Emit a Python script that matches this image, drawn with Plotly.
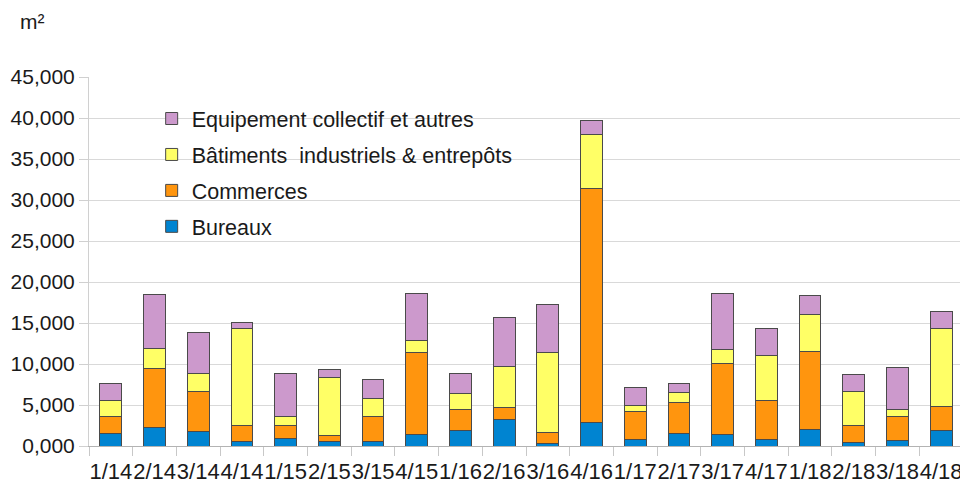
import plotly.graph_objects as go

categories = ["1/14", "2/14", "3/14", "4/14", "1/15", "2/15", "3/15", "4/15",
              "1/16", "2/16", "3/16", "4/16", "1/17", "2/17", "3/17", "4/17",
              "1/18", "2/18", "3/18", "4/18"]

bureaux = [1550, 2250, 1800, 500, 900, 600, 500, 1450, 1900, 3250,
           350, 2900, 850, 1550, 1350, 800, 2050, 450, 700, 1900]
commerces = [2000, 7200, 4900, 2000, 1550, 650, 3100, 9900, 2600, 1450,
             1250, 28500, 3400, 3750, 8700, 4700, 9500, 2100, 2900, 2950]
batiments = [2050, 2400, 2100, 11800, 1100, 7100, 2200, 1550, 1850, 5050,
             9800, 6600, 750, 1200, 1750, 5500, 4500, 4150, 900, 9450]
equipement = [2050, 6600, 5100, 800, 5250, 1000, 2300, 5650, 2550, 5900,
              5800, 1750, 2100, 1150, 6800, 3300, 2350, 2050, 5100, 2050]

series_names = ["Bureaux", "Commerces", "Bâtiments  industriels & entrepôts",
                "Equipement collectif et autres"]
series_colors = ["#0084d1", "#ff950e", "#ffff66", "#cc99cc"]
legend_ranks = [4, 3, 2, 1]

tick_values = [0, 5000, 10000, 15000, 20000, 25000, 30000, 35000, 40000, 45000]
tick_labels = ["0,000", "5,000", "10,000", "15,000", "20,000", "25,000",
               "30,000", "35,000", "40,000", "45,000"]

unit_label = "m²"

fig = go.Figure()
for name, vals, col, rk in zip(series_names, [bureaux, commerces, batiments, equipement],
                               series_colors, legend_ranks):
    fig.add_trace(go.Bar(
        x=categories, y=vals, name=name, legendgroup=name, legendrank=rk,
        marker=dict(color=col, line=dict(color="#4a4a4a", width=1)),
        width=0.5,
    ))

FONT = "Liberation Sans, Arial, sans-serif"
L, R, T, B = 81, 13, 69, 47
PW, PH = 968 - L - R, 485 - T - B

fig.update_layout(
    barmode="stack",
    width=968, height=485,
    margin=dict(l=L, r=R, t=T, b=B, autoexpand=False),
    paper_bgcolor="white", plot_bgcolor="white",
    font=dict(family=FONT, size=21, color="#1a1a1a"),
    showlegend=True,
    legend=dict(
        x=0.0717, y=0.943, xanchor="left", yanchor="top",
        traceorder="grouped", tracegroupgap=5,
        bgcolor="rgba(0,0,0,0)", font=dict(size=21.5, color="#1a1a1a"),
        itemwidth=30,
    ),
    xaxis=dict(
        type="category", tickson="boundaries", ticks="outside", ticklen=9,
        tickcolor="#c8c8c8", showline=True, linecolor="#b3b3b3", linewidth=1,
        tickfont=dict(size=22, color="#1a1a1a"), showgrid=False,
        tickangle=0, automargin=False, ticklabelstandoff=6,
    ),
    yaxis=dict(
        range=[0, 45000], tickvals=tick_values, ticktext=tick_labels,
        ticks="outside", ticklen=9, tickcolor="#d0d0d0",
        showgrid=True, gridcolor="#d9d9d9", gridwidth=1,
        showline=True, linecolor="#d0d0d0", mirror=True,
        tickfont=dict(size=21, color="#1a1a1a"), zeroline=False,
        automargin=False,
    ),
    annotations=[dict(
        text=unit_label, xref="paper", yref="paper",
        x=(10 - L) / PW, y=(PH + T - 14) / PH, xanchor="left", yanchor="middle",
        showarrow=False, font=dict(size=21, color="#1a1a1a"),
    )],
)

fig.write_html("out.html")
